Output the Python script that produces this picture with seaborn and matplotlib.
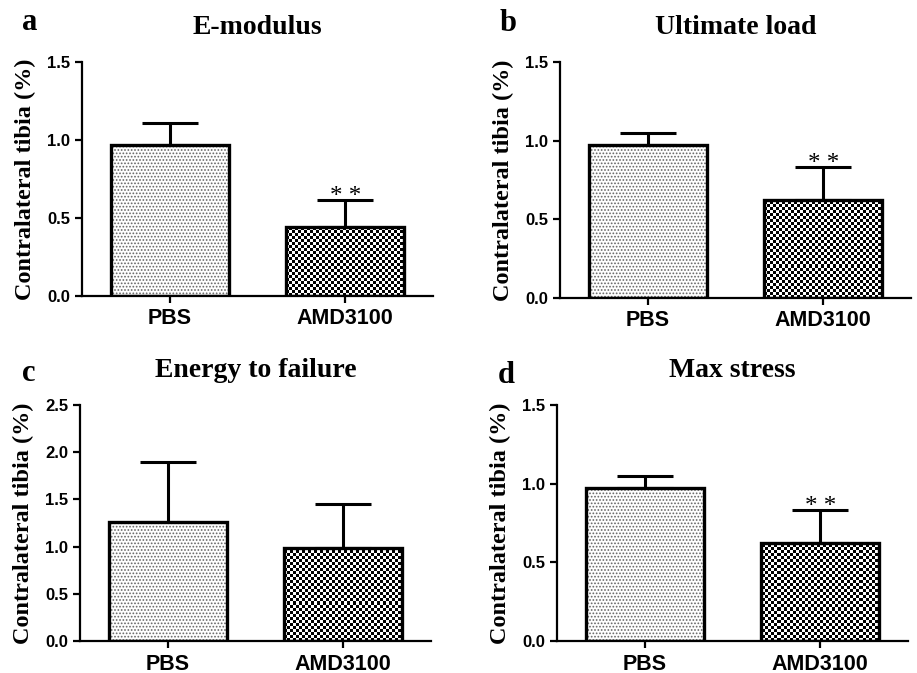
import numpy as np
import pandas as pd
import matplotlib
matplotlib.use("Agg")
import matplotlib.pyplot as plt
import seaborn as sns

# Data
groups = ["PBS", "AMD3100"]
panel_letters = ["a", "b", "c", "d"]
panel_titles = ["E-modulus", "Ultimate load", "Energy to failure", "Max stress"]
means = {
    "E-modulus": [0.97, 0.44],
    "Ultimate load": [0.97, 0.625],
    "Energy to failure": [1.26, 0.98],
    "Max stress": [0.97, 0.625],
}
errors = {
    "E-modulus": [0.14, 0.175],
    "Ultimate load": [0.08, 0.21],
    "Energy to failure": [0.64, 0.47],
    "Max stress": [0.08, 0.21],
}
stars = {
    "E-modulus": ["", "* *"],
    "Ultimate load": ["", "* *"],
    "Energy to failure": ["", ""],
    "Max stress": ["", "* *"],
}
y_max = {"E-modulus": 1.5, "Ultimate load": 1.5, "Energy to failure": 2.5, "Max stress": 1.5}
y_label = "Contralateral tibia (%)"

sns.set_style("ticks")
plt.rcParams["font.family"] = ["Liberation Serif", "DejaVu Serif"]
plt.rcParams["text.color"] = "black"
plt.rcParams["axes.labelcolor"] = "black"
plt.rcParams["xtick.color"] = "black"
plt.rcParams["ytick.color"] = "black"
plt.rcParams["axes.edgecolor"] = "black"
plt.rcParams["hatch.linewidth"] = 0.8

fig = plt.figure(figsize=(9.17, 6.73), dpi=100)
W, H = 917, 673
# axes rectangles in pixels: left, top, right, bottom
boxes = [(82, 62, 433, 296), (560, 62, 911, 298), (80, 405, 431, 641), (557, 405, 908, 641)]
letter_pos = [(22, 30), (500, 31), (22, 381), (498, 383)]

def checker_fill(ax, patch, cell_px=3):
    # black/white checkerboard texture clipped to the bar
    fig.canvas.draw()
    bb = ax.get_window_extent()
    nx = int(bb.width / cell_px)
    ny = int(bb.height / cell_px)
    tex = (np.add.outer(np.arange(ny), np.arange(nx)) % 2).astype(float)
    x0, x1 = ax.get_xlim()
    y0, y1 = ax.get_ylim()
    im = ax.imshow(tex, cmap="gray_r", extent=(x0, x1, y0, y1), origin="lower",
                   interpolation="nearest", aspect="auto", zorder=2.5)
    im.set_clip_path(patch)
    ax.set_xlim(x0, x1)
    ax.set_ylim(y0, y1)

for i, title in enumerate(panel_titles):
    l, t, r, b = boxes[i]
    ax = fig.add_axes([l / W, 1 - b / H, (r - l) / W, (b - t) / H])
    df = pd.DataFrame({"group": groups, "value": means[title]})

    # error bars (upper only) drawn under the bars
    ax.errorbar(range(len(groups)), means[title], yerr=[[0] * len(groups), errors[title]],
                fmt="none", ecolor="black", elinewidth=2.2, capsize=20, capthick=2.2, zorder=1)

    sns.barplot(data=df, x="group", y="value", ax=ax, width=0.67, color="white",
                edgecolor="black", linewidth=2.4, errorbar=None, zorder=2)
    ax.set_xlim(-0.5, 1.5)
    ax.set_ylim(0, y_max[title])
    ax.set_yticks(np.arange(0, y_max[title] + 0.01, 0.5))

    bars = ax.patches[:2]
    # white background under the bars to hide error bar stems
    for p in bars:
        bg = plt.Rectangle(p.get_xy(), p.get_width(), p.get_height(),
                           facecolor="white", edgecolor="none", zorder=1.5)
        ax.add_patch(bg)
    # grey dots for PBS
    dots = plt.Rectangle(bars[0].get_xy(), bars[0].get_width(), bars[0].get_height(),
                         facecolor="none", edgecolor="#666666", hatch=".....", lw=0, zorder=2.4)
    ax.add_patch(dots)
    for p in bars:
        p.set_facecolor("none")
        p.set_zorder(3)
    checker_fill(ax, bars[1])

    for j, s in enumerate(stars[title]):
        if s:
            ax.annotate(s, (j, means[title][j] + errors[title][j]), xytext=(0, -6),
                        textcoords="offset points", ha="center", va="bottom",
                        fontsize=18)

    ax.set_title(title, fontsize=20, fontweight="bold", pad=20)
    ax.set_xlabel("")
    ax.set_ylabel(y_label, fontsize=17.5, fontweight="bold")
    ax.yaxis.set_label_coords(-0.13, 0.5)
    sns.despine(ax=ax)
    for sp in ["left", "bottom"]:
        ax.spines[sp].set_linewidth(1.6)
    ax.tick_params(axis="both", width=1.6, length=5, direction="out")
    ax.tick_params(axis="x", pad=4)
    for lab in ax.get_yticklabels():
        lab.set_fontfamily("Liberation Sans")
        lab.set_fontweight("bold")
        lab.set_fontsize(12)
    for lab in ax.get_xticklabels():
        lab.set_fontfamily("Liberation Sans")
        lab.set_fontweight("bold")
        lab.set_fontsize(15.5)

    lx, ly = letter_pos[i]
    fig.text(lx / W, 1 - ly / H, panel_letters[i], fontsize=22, fontweight="bold",
             ha="left", va="baseline")

fig.savefig("out.png", dpi=100)
